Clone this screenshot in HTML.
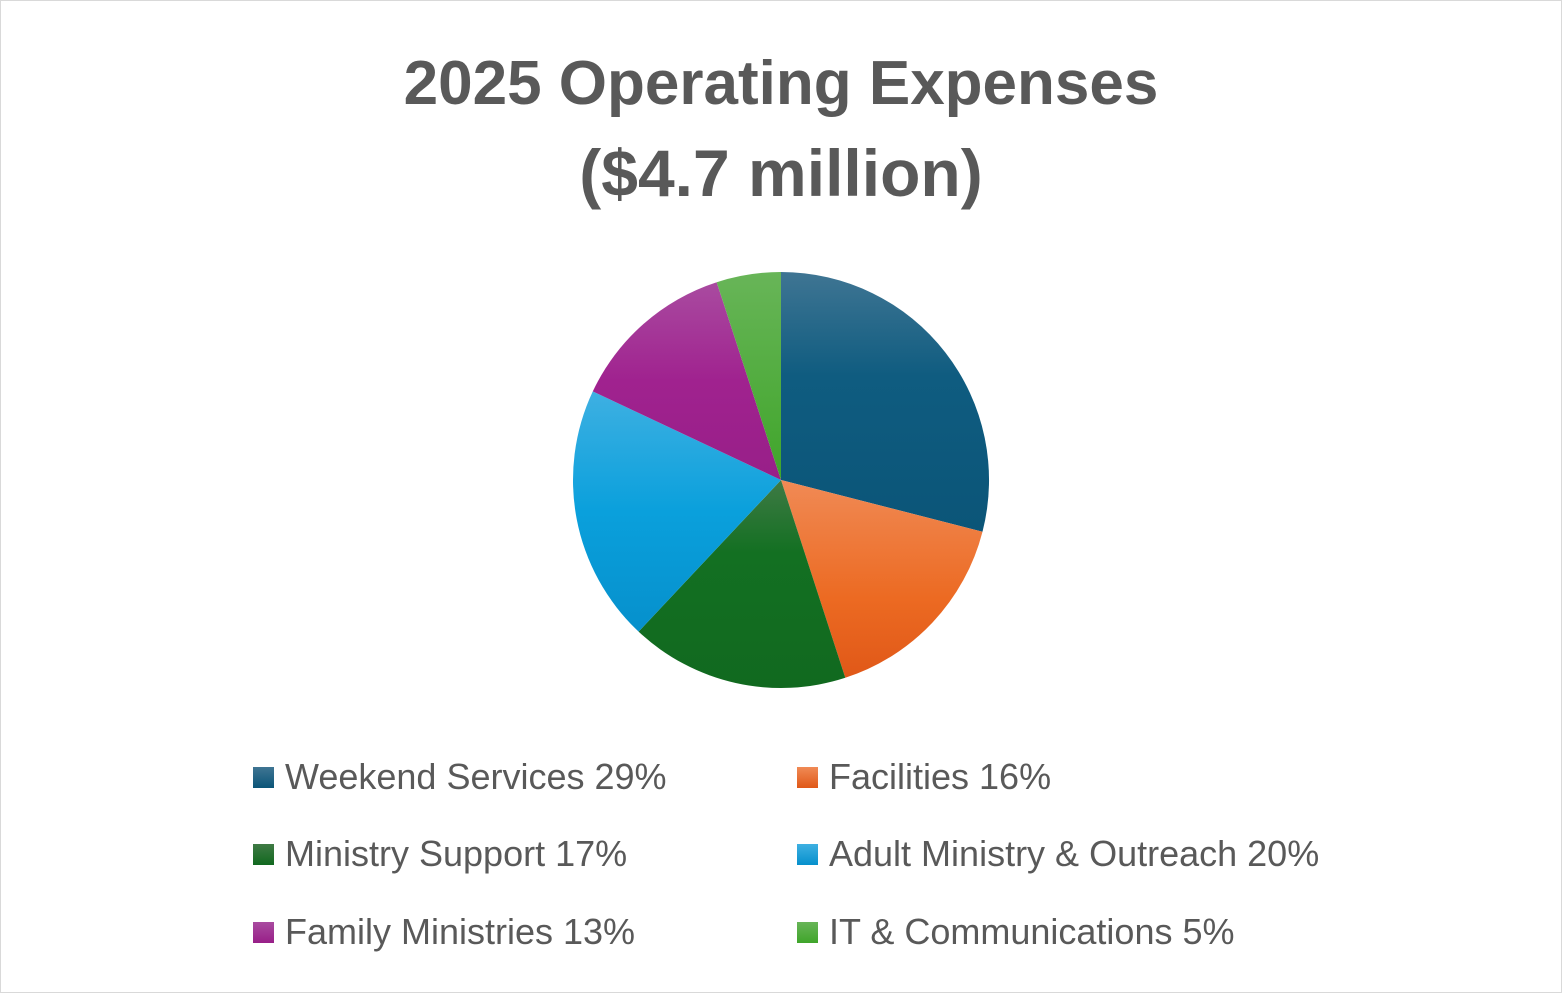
<!DOCTYPE html>
<html><head><meta charset="utf-8"><style>
body{margin:0;background:#fff}
#c{position:relative;width:1560px;height:991px;border:1px solid #d9d9d9;background:#fff;font-family:"Liberation Sans",sans-serif;color:#595959;overflow:hidden}
.t{position:absolute;left:0;width:1560px;text-align:center;font-weight:bold;font-size:62px}
.l{position:absolute;font-size:36px;white-space:nowrap;line-height:40px}
.sq{position:absolute;width:21px;height:21px}
</style></head><body><div id="c">
<div class="t" style="top:47px">2025 Operating Expenses</div>
<div class="t" style="top:134px;font-size:66px">($4.7 million)</div>
<svg width="1560" height="991" style="position:absolute;left:0;top:0">
<defs>
<linearGradient id="g1" x1="0" y1="0" x2="0" y2="1"><stop offset="0" stop-color="#3f7593"/><stop offset="0.4" stop-color="#0f5c80"/><stop offset="1" stop-color="#0b5578"/></linearGradient>
<linearGradient id="g2" x1="0" y1="0" x2="0" y2="1"><stop offset="0" stop-color="#f08a55"/><stop offset="0.6" stop-color="#ec6a22"/><stop offset="1" stop-color="#e05818"/></linearGradient>
<linearGradient id="g3" x1="0" y1="0" x2="0" y2="1"><stop offset="0" stop-color="#3f7a45"/><stop offset="0.35" stop-color="#137022"/><stop offset="1" stop-color="#11691f"/></linearGradient>
<linearGradient id="g4" x1="0" y1="0" x2="0" y2="1"><stop offset="0" stop-color="#3eb0e2"/><stop offset="0.5" stop-color="#0aa0dc"/><stop offset="1" stop-color="#0690cc"/></linearGradient>
<linearGradient id="g5" x1="0" y1="0" x2="0" y2="1"><stop offset="0" stop-color="#a94ba0"/><stop offset="0.5" stop-color="#a0228f"/><stop offset="1" stop-color="#981f88"/></linearGradient>
<linearGradient id="g6" x1="0" y1="0" x2="0" y2="1"><stop offset="0" stop-color="#68b558"/><stop offset="1" stop-color="#3fa52a"/></linearGradient>
</defs>
<g>
<path d="M780 479 L780 271 A208 208 0 0 1 981.5 530.7 Z" fill="url(#g1)"/>
<path d="M780 479 L981.5 530.7 A208 208 0 0 1 844.3 676.8 Z" fill="url(#g2)"/>
<path d="M780 479 L844.3 676.8 A208 208 0 0 1 637.6 630.6 Z" fill="url(#g3)"/>
<path d="M780 479 L637.6 630.6 A208 208 0 0 1 591.8 390.4 Z" fill="url(#g4)"/>
<path d="M780 479 L591.8 390.4 A208 208 0 0 1 715.7 281.2 Z" fill="url(#g5)"/>
<path d="M780 479 L715.7 281.2 A208 208 0 0 1 780 271 Z" fill="url(#g6)"/>
</g>
</svg>
<div class="sq" style="left:252px;top:766px;background:linear-gradient(#3f7593,#0b5578)"></div>
<div class="l" style="left:284px;top:756px">Weekend Services 29%</div>
<div class="sq" style="left:796px;top:766px;background:linear-gradient(#f08a55,#e05818)"></div>
<div class="l" style="left:828px;top:756px">Facilities 16%</div>
<div class="sq" style="left:252px;top:843px;background:linear-gradient(#3f7a45,#11691f)"></div>
<div class="l" style="left:284px;top:833px">Ministry Support 17%</div>
<div class="sq" style="left:796px;top:843px;background:linear-gradient(#3eb0e2,#0690cc)"></div>
<div class="l" style="left:828px;top:833px">Adult Ministry &amp; Outreach 20%</div>
<div class="sq" style="left:252px;top:921px;background:linear-gradient(#a94ba0,#981f88)"></div>
<div class="l" style="left:284px;top:911px">Family Ministries 13%</div>
<div class="sq" style="left:796px;top:921px;background:linear-gradient(#68b558,#3fa52a)"></div>
<div class="l" style="left:828px;top:911px">IT &amp; Communications 5%</div>
</div></body></html>
